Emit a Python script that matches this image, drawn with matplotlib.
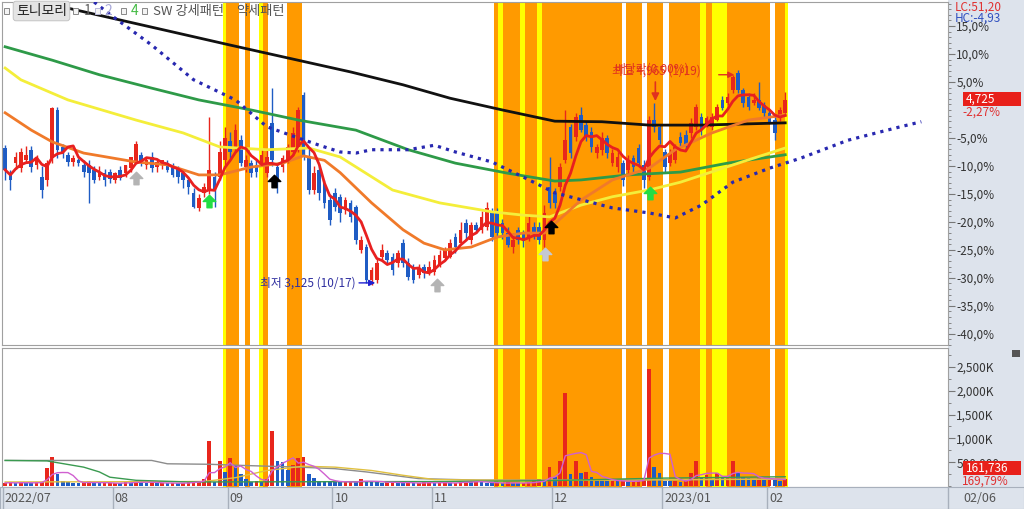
import matplotlib
matplotlib.use("Agg")
import matplotlib.pyplot as plt
import numpy as np
import pandas as pd
from matplotlib.patches import Rectangle
from matplotlib.path import Path
from matplotlib.ticker import FixedLocator, MultipleLocator, FuncFormatter

plt.rcParams['font.family'] = ['Noto Sans CJK KR', 'DejaVu Sans']

# --- data : daily candles, % vs reference price (2022/07/01 .. 2023/02/06) ---
opens = [
    -6.8, -11.2, -9.5, -10.4, -8.9, -7.1, -9.8, -12.0, -12.5, -8.6,
    0.0, -6.6, -8.0, -9.3, -8.9, -9.8, -9.8, -10.7, -12.0, -11.3,
    -11.1, -12.5, -10.7, -11.3, -10.4, -9.3, -8.0, -9.8, -8.4, -10.2,
    -9.8, -9.5, -10.2, -10.4, -11.3, -12.5, -14.8, -17.5, -14.8, -14.3,
    -12.0, -12.0, -9.0, -5.5, -7.0, -5.4, -10.2, -9.5, -9.8, -9.5,
    -11.3, -2.3, -10.2, -10.2, -8.9, -7.5, -7.1, 2.7, -8.4, -14.3,
    -10.7, -13.0, -16.1, -14.8, -15.5, -17.9, -16.6, -17.3, -25.0, -24.5,
    -30.4, -30.4, -26.3, -25.5, -26.3, -27.3, -23.8, -27.3, -28.0, -29.5,
    -28.0, -29.1, -28.9, -27.7, -26.4, -26.3, -22.7, -23.8, -20.2, -23.2,
    -20.5, -21.4, -20.9, -18.2, -18.4, -20.2, -22.0, -24.5, -21.4, -22.0,
    -23.0, -20.9, -20.9, -23.2, -13.8, -14.8, -13.8, -8.9, -3.0, -4.8,
    -0.9, -2.7, -3.9, -7.7, -7.1, -5.0, -9.5, -10.2, -9.5, -10.7,
    -8.6, -6.8, -9.8, -12.0, -1.8, -3.0, -7.5, -9.5, -8.9, -4.8,
    -4.5, -4.1, -3.0, -1.3, -2.7, -3.0, -1.8, 1.8, 1.3, 3.6,
    6.6, 3.6, 2.3, 1.3, 1.8, 0.9, -0.5, -1.8, -1.4, -0.5,
]
highs = [
    -6.2, -10.7, -7.5, -6.8, -6.5, -6.5, -8.0, -10.0, -9.0, 0.5,
    0.5, -6.0, -7.5, -8.0, -8.5, -9.0, -9.0, -10.0, -10.0, -10.5,
    -10.5, -11.0, -10.0, -10.0, -9.5, -5.5, -7.5, -8.5, -7.5, -9.0,
    -9.0, -9.0, -9.5, -10.0, -10.5, -12.0, -14.0, -15.0, -13.0, -1.3,
    -11.0, -5.5, -3.0, -4.0, -2.5, -4.5, -8.0, -9.0, -9.0, -7.0,
    -7.0, 3.9, -9.5, -8.0, -6.0, -3.0, 0.5, 3.2, -7.0, -10.0,
    -10.0, -12.5, -15.0, -14.0, -15.0, -15.5, -16.0, -17.0, -22.5, -24.0,
    -28.0, -26.5, -24.0, -25.0, -25.5, -25.0, -23.0, -26.5, -27.5, -27.5,
    -27.5, -27.0, -26.0, -25.0, -24.5, -23.0, -22.0, -20.0, -19.5, -20.0,
    -20.0, -18.0, -16.5, -17.5, -17.5, -19.5, -21.0, -22.0, -21.0, -21.5,
    -19.0, -20.0, -20.0, -17.0, -8.4, -14.0, -9.5, 0.0, -2.5, -0.5,
    0.5, -2.0, -3.0, -6.0, -4.0, -4.5, -7.0, -7.5, -9.0, -8.0,
    -8.0, -6.0, -9.0, -1.0, 1.3, -2.5, -7.0, -7.0, -6.0, -4.0,
    -3.5, -1.5, 1.0, -0.5, -1.0, -0.5, 1.0, 2.5, 3.0, 6.3,
    7.2, 4.0, 3.0, 3.0, 5.0, 1.5, 0.0, -1.0, 0.5, 3.2,
]
lows = [
    -12.5, -14.3, -10.5, -11.0, -9.5, -11.0, -10.5, -15.7, -13.5, -9.5,
    -8.5, -8.5, -10.0, -10.0, -10.0, -12.0, -16.6, -13.0, -12.5, -13.5,
    -13.0, -13.0, -12.5, -12.0, -11.0, -9.5, -10.0, -10.5, -11.0, -11.0,
    -10.5, -11.0, -12.0, -13.0, -14.0, -15.0, -17.5, -18.0, -15.5, -15.0,
    -17.3, -12.5, -10.0, -8.5, -7.5, -10.0, -11.0, -12.0, -12.0, -10.0,
    -12.0, -10.0, -14.8, -11.0, -9.5, -8.0, -7.5, -9.0, -15.0, -15.0,
    -16.0, -17.5, -20.5, -18.0, -20.0, -18.5, -20.0, -24.0, -25.5, -30.9,
    -31.3, -31.0, -27.0, -27.5, -29.5, -28.0, -28.0, -30.4, -31.0, -30.0,
    -30.0, -29.5, -29.5, -28.0, -26.8, -26.5, -25.5, -24.0, -23.0, -24.0,
    -22.0, -22.0, -21.5, -23.5, -22.5, -23.0, -24.5, -25.5, -24.0, -24.5,
    -23.5, -23.0, -24.0, -24.5, -17.5, -17.5, -14.5, -9.5, -8.5, -5.5,
    -4.0, -5.5, -7.5, -8.5, -8.0, -8.5, -10.0, -11.0, -13.5, -11.5,
    -11.0, -10.0, -14.0, -12.5, -4.0, -6.0, -11.0, -10.0, -9.5, -6.5,
    -7.0, -5.0, -3.5, -4.5, -3.0, -3.5, -2.0, 0.0, 0.9, 3.0,
    3.0, 0.5, 0.0, 0.9, 0.0, -1.5, -2.5, -5.4, -2.0, -1.0,
]
closes = [
    -10.7, -12.5, -8.4, -7.5, -8.0, -10.2, -8.6, -14.3, -9.5, 0.4,
    -7.1, -7.5, -9.3, -8.6, -9.5, -11.1, -11.3, -12.5, -11.1, -12.5,
    -12.3, -11.3, -12.1, -9.8, -8.4, -6.0, -9.5, -8.9, -10.4, -9.3,
    -8.9, -10.7, -11.6, -12.0, -12.5, -13.8, -17.3, -15.7, -13.8, -10.7,
    -14.3, -7.5, -5.0, -7.5, -3.6, -9.5, -8.9, -11.3, -11.1, -8.0,
    -8.4, -8.9, -12.5, -8.6, -6.6, -4.1, 0.0, -8.4, -14.3, -11.3,
    -14.8, -16.6, -19.6, -17.3, -18.4, -16.1, -19.1, -23.2, -23.2, -30.4,
    -28.6, -27.3, -25.0, -26.8, -28.6, -25.5, -27.3, -29.8, -30.4, -28.2,
    -29.1, -28.0, -26.8, -25.9, -25.0, -23.8, -24.5, -21.4, -22.0, -20.5,
    -21.4, -19.1, -17.5, -22.7, -22.0, -22.0, -24.1, -23.2, -23.2, -23.5,
    -20.2, -22.0, -23.2, -18.4, -16.6, -16.6, -10.2, -5.4, -7.7, -1.3,
    -3.6, -4.8, -6.6, -6.6, -5.0, -7.7, -7.7, -8.4, -12.5, -8.9,
    -10.2, -9.5, -12.5, -1.8, -3.0, -5.4, -10.2, -7.7, -6.6, -5.9,
    -6.3, -2.3, 0.5, -3.6, -1.4, -1.3, 0.5, 0.4, 2.3, 5.9,
    3.6, 1.3, 0.5, 1.8, 0.4, -0.5, -2.1, -4.1, 0.0, 1.8,
]
volume_k = [
    70, 80, 60, 90, 70, 60, 80, 90, 380, 620,
    250, 100, 80, 70, 60, 80, 110, 70, 60, 60,
    70, 70, 60, 90, 70, 120, 80, 70, 80, 60,
    70, 60, 70, 60, 70, 80, 110, 120, 160, 950,
    90, 520, 300, 600, 450, 250, 160, 90, 120, 80,
    160, 1150, 520, 500, 350, 450, 600, 620, 250, 170,
    120, 110, 100, 90, 80, 90, 100, 90, 150, 100,
    90, 80, 70, 80, 100, 70, 60, 80, 60, 70,
    80, 90, 60, 70, 80, 60, 70, 100, 110, 90,
    100, 80, 70, 60, 70, 60, 80, 70, 60, 70,
    80, 100, 150, 120, 400, 200, 520, 1950, 250, 520,
    280, 300, 200, 150, 120, 110, 120, 100, 110, 90,
    100, 130, 180, 2450, 400, 280, 120, 100, 110, 90,
    120, 280, 520, 200, 230, 150, 280, 180, 200, 520,
    280, 200, 170, 150, 180, 140, 160, 130, 120, 160,
]

# moving averages (bar index, %)
ma20_x = [0, 5, 9, 15, 25, 31, 37, 41, 47, 53, 57, 61, 64, 70, 76, 80, 84, 89, 94, 99, 103, 110, 116, 123, 128, 135, 142, 149]
ma20_y = [-0.5, -3.6, -5.7, -7.7, -9.3, -9.8, -11.6, -11.6, -10.2, -9.5, -8.2, -9.0, -11.2, -16.6, -21.4, -23.8, -25.0, -24.5, -22.7, -22.0, -22.0, -16.1, -12.5, -10.4, -7.1, -4.1, -1.8, -0.9]
ma60_x = [0, 3, 12, 25, 34, 41, 50, 58, 64, 74, 83, 93, 99, 104, 110, 116, 123, 129, 142, 149]
ma60_y = [7.5, 5.4, 1.8, -1.8, -4.1, -6.6, -7.1, -6.8, -8.4, -14.3, -16.6, -18.2, -18.8, -19.1, -17.0, -15.5, -14.3, -12.9, -8.9, -6.8]
ma120_x = [0, 9, 18, 28, 37, 47, 56, 67, 77, 86, 96, 105, 110, 119, 129, 138, 149]
ma120_y = [11.3, 8.9, 6.3, 3.9, 1.8, 0.0, -1.8, -3.6, -7.1, -9.5, -11.3, -12.7, -12.5, -11.6, -11.1, -9.5, -8.0]
ma240_x = [12, 28, 43, 54, 66, 76, 85, 95, 105, 114, 123, 133, 149]
ma240_y = [18.2, 14.8, 11.6, 9.3, 6.8, 4.5, 2.1, 0.0, -2.0, -2.1, -2.7, -2.7, -2.3]
lead_x = [17, 20, 28, 36, 44, 50, 56, 60, 64, 67, 70, 77, 82, 86, 93, 99, 105, 116, 123, 128, 133, 139, 146, 152, 161, 171, 175]
lead_y = [19.3, 17.1, 11.6, 5.4, 1.8, -3.0, -5.0, -6.3, -7.5, -7.7, -7.1, -7.1, -6.3, -7.5, -9.3, -12.0, -14.8, -17.5, -18.4, -19.3, -17.0, -12.9, -10.4, -8.6, -5.4, -3.0, -2.1]

# volume averages (K)
vgreen_x = [0, 8, 15, 18, 20, 25, 35, 60, 85, 105, 125, 149]
vgreen_v = [540, 530, 400, 300, 190, 125, 90, 95, 100, 120, 170, 200]
vgrey_x = [0, 28, 31, 39, 45, 56, 63, 69, 79, 90, 110, 130, 149]
vgrey_v = [540, 540, 470, 460, 437, 400, 368, 300, 160, 130, 130, 140, 150]
vyellow_x = [0, 38, 44, 50, 57, 63, 70, 76, 82, 100, 149]
vyellow_v = [90, 100, 180, 330, 420, 400, 330, 230, 140, 120, 150]

# pattern shading (bar index ranges)
band_start = [41.6, 42.2, 45.8, 48.5, 49.3, 53.9, 93.4, 94.2, 95.1, 98.4, 99.3, 101.6, 102.6, 118.6, 122.6, 126.8, 132.8, 133.9, 135.0, 137.9, 147.1, 149.0]
band_end = [42.2, 44.7, 46.8, 49.3, 50.2, 56.7, 94.2, 95.1, 98.4, 99.3, 101.6, 102.6, 117.9, 121.7, 125.7, 132.8, 133.9, 135.0, 137.9, 146.1, 149.0, 149.6]
band_kind = ['Y', 'O', 'O', 'Y', 'O', 'O', 'O', 'Y', 'O', 'Y', 'O', 'Y', 'O', 'O', 'O', 'O', 'Y', 'O', 'Y', 'O', 'O', 'Y']

# signal arrows
sig_x = [25, 39, 51.4, 82.5, 103.2, 104.2, 123.2]
sig_y = [-12.2, -16.3, -12.7, -31.3, -25.8, -21.0, -14.8]
sig_c = ['#b4b4b4', '#22dd44', '#000000', '#b4b4b4', '#c4c8d4', '#000000', '#22dd44']

month_idx = [0, 21, 43, 63, 82, 105, 126, 146]
month_lab = ['2022/07', '08', '09', '10', '11', '12', '2023/01', '02']
pct_ticks = [15, 10, 5, -5, -10, -15, -20, -25, -30, -35, -40]
vol_ticks = [500, 1000, 1500, 2000, 2500]

RED = '#e8261c'
BLUE = '#1f5cc4'
STRIP = '#dde3ec'

W, H = 1024, 509
def fx(px): return px / W
def fy(py): return 1 - py / H

fig = plt.figure(figsize=(W / 100, H / 100), dpi=100)
fig.patch.set_facecolor('white')
fig.patches.append(Rectangle((fx(948), 0), 1 - fx(948), 1, transform=fig.transFigure,
                             facecolor=STRIP, edgecolor='none', zorder=-1))

ax = fig.add_axes([fx(2), fy(345), fx(948) - fx(2), 343 / H])
axv = fig.add_axes([fx(2), fy(487), fx(948) - fx(2), 139 / H], sharex=ax)
axd = fig.add_axes([fx(0), 0, 1, 22 / H])

n = len(closes)
x = np.arange(n)
o = np.array(opens); c = np.array(closes)
h = np.array(highs); l = np.array(lows)
up = c >= o

for a in (ax, axv):
    for s, e, k in zip(band_start, band_end, band_kind):
        a.axvspan(s, e, color='#ffff00' if k == 'Y' else '#ff9a00', lw=0, zorder=0)

# candles
cols = np.where(up, RED, BLUE)
ax.vlines(x, np.minimum(l, np.minimum(o, c)), np.maximum(h, np.maximum(o, c)), colors=cols, lw=1, zorder=2)
body = np.where(np.abs(c - o) < 0.2, 0.2, c - o)
ax.bar(x, body, bottom=o, width=0.7, color=cols, zorder=2)

# moving averages
ma5 = pd.Series(closes).rolling(5, min_periods=1).mean()
ax.plot(ma240_x, ma240_y, color='#111111', lw=2, zorder=3)
ax.plot(ma120_x, ma120_y, color='#2e9a48', lw=2, zorder=3)
ax.plot(ma60_x, ma60_y, color='#f4ee3a', lw=2, zorder=3)
ax.plot(ma20_x, ma20_y, color='#f07a2a', lw=2, zorder=3)
ax.plot(x, ma5, color='#e82020', lw=2, zorder=3)
ax.plot(lead_x, lead_y, color='#2828b0', lw=2.3, dashes=(1, 1.6), zorder=3)

# signal arrows
arrow_up = Path([(0, 1), (-1, 0), (-0.4, 0), (-0.4, -1), (0.4, -1), (0.4, 0), (1, 0), (0, 1)],
                [Path.MOVETO] + [Path.LINETO] * 6 + [Path.CLOSEPOLY])
for sx, sy, sc in zip(sig_x, sig_y, sig_c):
    ax.plot(sx, sy, marker=arrow_up, ms=9, color=sc, mec=sc, zorder=5)

# annotations
ax.text(66.9, -30.9, '최저 3,125 (10/17)', ha='right', va='center', color='#3030a0', fontsize=8.5, zorder=6)
ax.annotate('', xy=(70.7, -30.9), xytext=(67.6, -30.9),
            arrowprops=dict(arrowstyle='-|>', color='#2020d0', lw=1, mutation_scale=9, shrinkA=0, shrinkB=0), zorder=6)
ax.text(116, 6.9, '최고 4,965 (1/19)', ha='left', va='center', color='#e03020', fontsize=8.5, zorder=6)
ax.text(116.3, 7.3, '배당락(0.00%)', ha='left', va='center', color='#e03020', fontsize=8.5, zorder=6)
ax.annotate('', xy=(139.3, 6.3), xytext=(136.3, 6.3),
            arrowprops=dict(arrowstyle='-|>', color='#e03020', lw=1, mutation_scale=9, shrinkA=0, shrinkB=0), zorder=6)
ax.annotate('', xy=(124.2, 1.6), xytext=(124.2, 5.0),
            arrowprops=dict(arrowstyle='-|>', color='#e03020', lw=1.2, mutation_scale=11, shrinkA=0, shrinkB=0), zorder=6)

ax.set_xlim(-0.6, 180.1)
ax.set_ylim(-42.0, 19.3)
pct_fmt = FuncFormatter(lambda v, p: ('%.1f%%' % v).replace('.', ','))
ax.yaxis.set_major_locator(FixedLocator(pct_ticks))
ax.yaxis.set_major_formatter(pct_fmt)
ax.yaxis.set_minor_locator(MultipleLocator(1))
ax.tick_params(axis='y', which='both', left=False, right=True, labelleft=False, labelright=True,
               direction='out', colors='#777777', labelcolor='#333333', labelsize=8.5, pad=1)
ax.tick_params(axis='y', which='major', length=5)
ax.tick_params(axis='y', which='minor', length=2)
ax.tick_params(axis='x', which='both', bottom=False, labelbottom=False)

# volume
vol = np.array(volume_k)
vup = np.concatenate([[True], vol[1:] >= vol[:-1]])
axv.bar(x, vol, width=0.7, color=np.where(vup, RED, BLUE), zorder=2)
axv.plot(vgrey_x, vgrey_v, color='#8c8c8c', lw=1, zorder=3)
axv.plot(vyellow_x, vyellow_v, color='#e0c040', lw=1, zorder=3)
axv.plot(vgreen_x, vgreen_v, color='#3a9a50', lw=1, zorder=3)
axv.plot(x, pd.Series(volume_k).rolling(5, min_periods=1).mean(), color='#d060d0', lw=1, zorder=3)
axv.set_ylim(-15, 2890)
axv.yaxis.set_major_locator(FixedLocator(vol_ticks))
axv.yaxis.set_major_formatter(FuncFormatter(lambda v, p: '500,000' if v < 1000 else '{:,.0f}K'.format(v)))
axv.yaxis.set_minor_locator(MultipleLocator(250))
axv.tick_params(axis='y', which='both', left=False, right=True, labelleft=False, labelright=True,
                direction='out', colors='#777777', labelcolor='#333333', labelsize=8.5, pad=1)
axv.tick_params(axis='y', which='major', length=5)
axv.tick_params(axis='y', which='minor', length=2)
axv.tick_params(axis='x', which='both', bottom=False, labelbottom=False)

for a in (ax, axv):
    for s in a.spines.values():
        s.set_color('#a0a0a0')
        s.set_linewidth(0.8)

# date strip
axd.set_facecolor(STRIP)
axd.set_xlim(0, W)
axd.set_ylim(0, 1)
axd.set_xticks([]); axd.set_yticks([])
for s in axd.spines.values():
    s.set_color('#a8b0bc')
for i, lab in zip(month_idx, month_lab):
    px = 5 + 5.235 * (i - 0.45)
    axd.axvline(px, color='#a8b0bc', lw=1)
    axd.text(px + 2, 0.48, lab, va='center', ha='left', fontsize=9, color='#555555')
axd.axvline(948, color='#a8b0bc', lw=1)
axd.text(963, 0.48, '02/06', va='center', ha='left', fontsize=9, color='#555555')

# right strip labels
def ftext(px, py, s, **kw):
    fig.text(fx(px), fy(py), s, va='center', ha='left', **kw)

ftext(955, 7, 'LC:51,20', color='#e03030', fontsize=8.5)
ftext(955, 18, 'HC:-4,93', color='#3050c0', fontsize=8.5)
fig.patches.append(Rectangle((fx(963), fy(106)), 58 / W, 14 / H, transform=fig.transFigure,
                             facecolor='#e8201a', edgecolor='none', zorder=5))
ftext(966, 99, '4,725', color='white', fontsize=8.5, zorder=6)
ftext(962, 112, '-2,27%', color='#e03030', fontsize=8.5)
fig.patches.append(Rectangle((fx(963), fy(475)), 58 / W, 14 / H, transform=fig.transFigure,
                             facecolor='#e8201a', edgecolor='none', zorder=5))
ftext(966, 468, '161,736', color='white', fontsize=8.5, zorder=6)
ftext(962, 481, '169,79%', color='#e03030', fontsize=8.5)
fig.patches.append(Rectangle((fx(1012), fy(357)), 8 / W, 7 / H, transform=fig.transFigure,
                             facecolor='#555555', edgecolor='none', zorder=5))

# header legend
def fbox(px, py, col='#888888'):
    fig.patches.append(Rectangle((fx(px), fy(py + 3)), 5 / W, 6 / H, transform=fig.transFigure,
                                 facecolor='#f4f4f4', edgecolor=col, lw=0.7, zorder=5))

fbox(4, 11)
ftext(16, 11, '토니모리', color='#222222', fontsize=10, zorder=6,
      bbox=dict(boxstyle='round,pad=0.2', facecolor='#e4e4e4', edgecolor='#c4c4c4', lw=0.7))
fbox(73, 11)
ftext(84, 11, '1', color='#666666', fontsize=10, zorder=6)
fbox(95, 11, '#b8b8d8')
ftext(104, 11, '2', color='#a8a8d8', fontsize=10, zorder=6)
fbox(121, 11)
ftext(131, 11, '4', color='#44bb44', fontsize=10, zorder=6)
fbox(142, 11)
ftext(153, 11, 'SW 강세패턴', color='#555555', fontsize=9.5, zorder=6)
ftext(236, 11, '약세패턴', color='#555555', fontsize=9.5, zorder=6)

fig.savefig('out.png', dpi=100)
